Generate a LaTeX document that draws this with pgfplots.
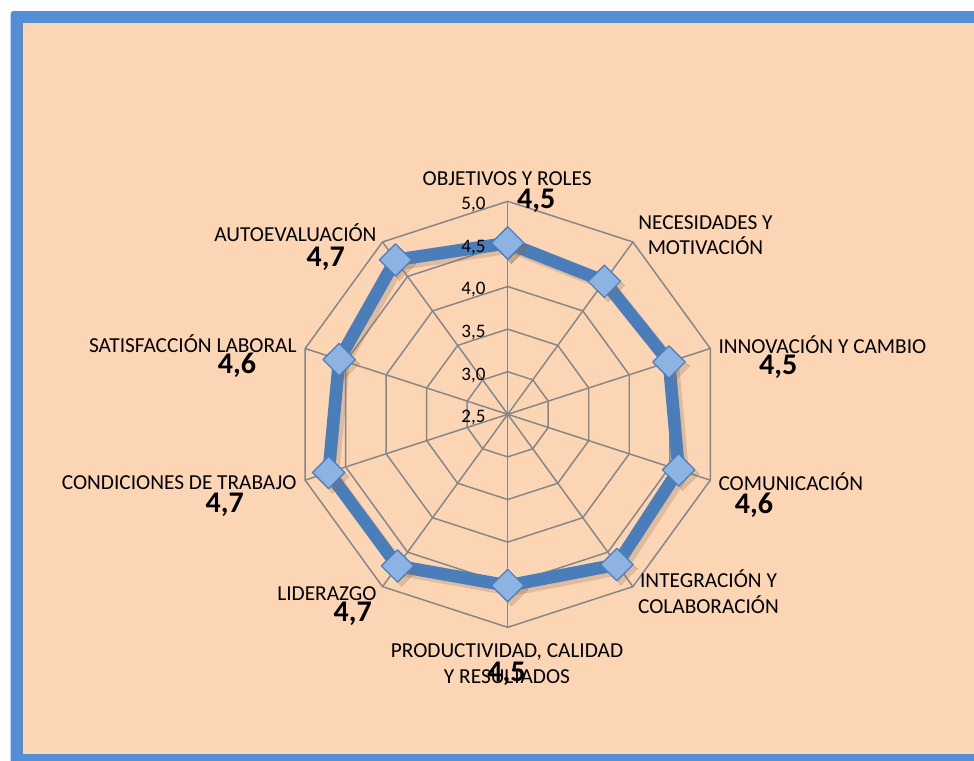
\documentclass[border=0pt]{standalone}
\usepackage{pgfplots}
\pgfplotsset{compat=1.18}
\usepackage{pgfplotstable}
\usepackage{fontspec}
\setmainfont{Carlito}
\definecolor{peach}{HTML}{FCD5B5}
\definecolor{frameblue}{HTML}{558ED5}
\definecolor{lineblue}{HTML}{4A7EBB}
\definecolor{markfill}{HTML}{8DB3E2}
\definecolor{gridgray}{HTML}{868686}
\definecolor{shadowc}{HTML}{8A6A50}

% i = spoke index (clockwise from top), v = score
\pgfplotstableread{
i v
0 4.51
1 4.43
2 4.49
3 4.61
4 4.68
5 4.51
6 4.70
7 4.71
8 4.58
9 4.74
10 4.51
}\scores

\pgfplotstableread{
i one
0 1
1 1
2 1
3 1
4 1
5 1
6 1
7 1
8 1
9 1
10 1
}\angles

\newcommand{\cat}{\fontsize{16}{18}\selectfont}
\newcommand{\val}{\fontsize{22.5}{24}\selectfont\bfseries}
\newcommand{\tck}{\fontsize{14.3}{16}\selectfont}

\begin{document}
\begin{tikzpicture}
\begin{scope}[x=0.75pt,y=-0.75pt]
  \clip (0,0) rectangle (974,760);
  \fill[white] (0,0) rectangle (974,760);
  \fill[frameblue, rounded corners=2pt] (10.7,11) rectangle (1000,800);
  \fill[peach] (23,22.7) rectangle (1000,754);
\end{scope}

\begin{axis}[
  at={(380.78pt,-310.73pt)}, anchor=origin,
  x=63.9pt, y=63.9pt,
  xmin=-2.6, xmax=2.6, ymin=-2.6, ymax=2.6,
  hide axis, clip=false,
]
  % rings
  \pgfplotsinvokeforeach{0.5,1.0,1.5,2.0,2.5}{
    \addplot[gridgray, line width=1.1pt, line join=miter] table[
      x expr={#1*\thisrow{one}*sin(36*\thisrow{i})},
      y expr={#1*\thisrow{one}*cos(36*\thisrow{i})}] {\angles};
  }
  % spokes
  \pgfplotsinvokeforeach{0,...,9}{
    \addplot[gridgray, line width=1.1pt] coordinates {(0,0) ({2.5*sin(36*#1)},{2.5*cos(36*#1)})};
  }
  % shadow
  \addplot[draw=shadowc, opacity=0.25, line width=9.5pt, line join=round,
    xshift=3pt, yshift=-3pt,
    mark=square*, mark size=8.6pt,
    mark options={rotate=45, fill=shadowc, draw=none, line width=0pt}]
    table[x expr={(\thisrow{v}-2.5)*sin(36*\thisrow{i})},
          y expr={(\thisrow{v}-2.5)*cos(36*\thisrow{i})}] {\scores};
  % series
  \addplot[draw=lineblue, line width=9.5pt, line join=round,
    mark=square*, mark size=8.6pt,
    mark options={rotate=45, fill=markfill, draw=lineblue, line width=0.9pt}]
    table[x expr={(\thisrow{v}-2.5)*sin(36*\thisrow{i})},
          y expr={(\thisrow{v}-2.5)*cos(36*\thisrow{i})}] {\scores};
\end{axis}

\begin{scope}[x=0.75pt,y=-0.75pt, every node/.style={inner sep=0pt, outer sep=0pt, text=black}]
  % tick labels
  \node[anchor=base east] at (485.5,209.3) {\tck 5,0};
  \node[anchor=base east] at (485.5,252.0) {\tck 4,5};
  \node[anchor=base east] at (485.5,294.7) {\tck 4,0};
  \node[anchor=base east] at (485.5,337.4) {\tck 3,5};
  \node[anchor=base east] at (485.5,380.1) {\tck 3,0};
  \node[anchor=base east] at (485.5,422.7) {\tck 2,5};
  % category labels
  \node[anchor=base] at (507.2,185) {\cat OBJETIVOS Y ROLES};
  \node[anchor=base] at (536.2,208.3) {\val 4,5};

  \node[anchor=base] at (705.5,229.3) {\cat NECESIDADES Y};
  \node[anchor=base] at (705.5,254.3) {\cat MOTIVACIÓN};

  \node[anchor=base west] at (718.5,353.3) {\cat INNOVACIÓN Y CAMBIO};
  \node[anchor=base] at (778.3,374) {\val 4,5};

  \node[anchor=base west] at (718.5,490.7) {\cat COMUNICACIÓN};
  \node[anchor=base] at (754,513.3) {\val 4,6};

  \node[anchor=base] at (708.5,587.7) {\cat INTEGRACIÓN Y};
  \node[anchor=base] at (708.5,613.3) {\cat COLABORACIÓN};

  \node[anchor=base] at (507,657.7) {\cat PRODUCTIVIDAD, CALIDAD};
  \node[anchor=base] at (507,683.3) {\cat Y RESULTADOS};
  \node[anchor=base] at (506.5,681.7) {\val 4,5};

  \node[anchor=base east] at (376.5,600.7) {\cat LIDERAZGO};
  \node[anchor=base] at (352.7,621.7) {\val 4,7};

  \node[anchor=base east] at (296.5,489.3) {\cat CONDICIONES DE TRABAJO};
  \node[anchor=base] at (224.7,512.7) {\val 4,7};

  \node[anchor=base east] at (296.5,352.7) {\cat SATISFACCIÓN LABORAL};
  \node[anchor=base] at (237,373.3) {\val 4,6};

  \node[anchor=base east] at (376.5,241.7) {\cat AUTOEVALUACIÓN};
  \node[anchor=base] at (325.8,266.7) {\val 4,7};
\end{scope}
\end{tikzpicture}
\end{document}
